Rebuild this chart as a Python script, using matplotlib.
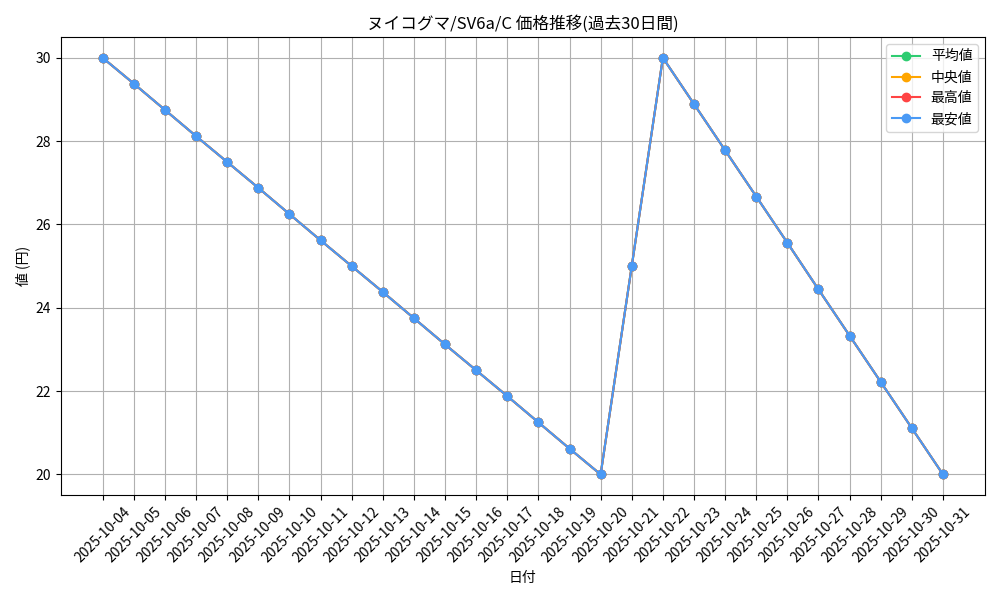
import matplotlib
matplotlib.use("Agg")
import matplotlib.pyplot as plt

plt.rcParams['font.family'] = ['Noto Sans CJK JP', 'DejaVu Sans']

dates = ["2025-10-04", "2025-10-05", "2025-10-06", "2025-10-07", "2025-10-08",
         "2025-10-09", "2025-10-10", "2025-10-11", "2025-10-12", "2025-10-13",
         "2025-10-14", "2025-10-15", "2025-10-16", "2025-10-17", "2025-10-18",
         "2025-10-19", "2025-10-20", "2025-10-21", "2025-10-22", "2025-10-23",
         "2025-10-24", "2025-10-25", "2025-10-26", "2025-10-27", "2025-10-28",
         "2025-10-29", "2025-10-30", "2025-10-31"]

prices = [30.0, 29.38, 28.75, 28.12, 27.5, 26.88, 26.25, 25.62, 25.0, 24.38,
          23.75, 23.12, 22.5, 21.88, 21.25, 20.62, 20.0, 25.0, 30.0, 28.89,
          27.78, 26.67, 25.56, 24.44, 23.33, 22.22, 21.11, 20.0]

avg_vals = prices
median_vals = prices
max_vals = prices
min_vals = prices

fig, ax = plt.subplots(figsize=(10, 6), dpi=100)

ax.plot(dates, avg_vals, marker='o', color='#2ECC71', label='平均値', linewidth=1.5, markersize=6)
ax.plot(dates, median_vals, marker='o', color='#FFA500', label='中央値', linewidth=1.5, markersize=6)
ax.plot(dates, max_vals, marker='o', color='#FF4444', label='最高値', linewidth=1.5, markersize=6)
ax.plot(dates, min_vals, marker='o', color='#4A9AF5', label='最安値', linewidth=1.5, markersize=6)

ax.set_title('ヌイコグマ/SV6a/C 価格推移(過去30日間)')
ax.set_xlabel('日付')
ax.set_ylabel('値 (円)')
ax.grid(True)
ax.legend(loc='upper right')
plt.xticks(rotation=45)

plt.tight_layout()
plt.savefig('out.png')
